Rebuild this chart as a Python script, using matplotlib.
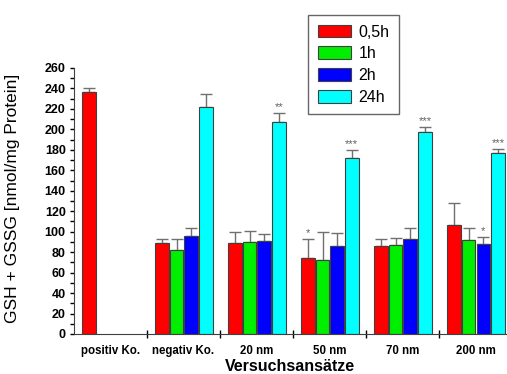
import numpy as np
from matplotlib import pyplot as plt
from matplotlib.ticker import MultipleLocator

plt.rcParams['font.family'] = ['Liberation Sans', 'DejaVu Sans']

groups = ['positiv Ko.', 'negativ Ko.', '20 nm', '50 nm', '70 nm', '200 nm']
series = ['0,5h', '1h', '2h', '24h']
colors = ['#ff0000', '#00ee00', '#0000ff', '#00ffff']

# mean values, nan = no bar
h05 = [237, 89, 89, 74, 86.5, 107]
h1 = [np.nan, 82.5, 89.5, 72.5, 87, 92]
h2 = [np.nan, 95.5, 91, 86.5, 93, 88]
h24 = [np.nan, 222, 207, 172.5, 197.5, 176.5]

# upper error
e05 = [3, 4, 11, 19, 6, 21]
e1 = [np.nan, 10, 11, 27, 7, 11.5]
e2 = [np.nan, 8, 6.5, 12, 11, 7]
e24 = [np.nan, 13, 9, 7, 5, 4.5]

# significance markers
s05 = ['', '', '', '*', '', '']
s1 = ['', '', '', '', '', '']
s2 = ['', '', '', '', '', '*']
s24 = ['', '', '**', '***', '***', '***']

vals = [h05, h1, h2, h24]
errs = [e05, e1, e2, e24]
stars = [s05, s1, s2, s24]

fig = plt.figure(figsize=(5.07, 3.74), dpi=100)
ax = fig.add_axes([74 / 507, 40 / 374, 1 - 74 / 507, 266 / 374])

x = np.arange(len(groups))
step = 0.2
width = 0.185
for i in range(4):
    xs = x - 0.5 + 0.105 + step * i + step / 2
    v = np.array(vals[i], dtype=float)
    e = np.array(errs[i], dtype=float)
    ax.bar(xs, v, width, color=colors[i], edgecolor='#404040', linewidth=0.8,
           label=series[i], zorder=2)
    ax.errorbar(xs, v, yerr=[np.zeros_like(e), e], fmt='none', ecolor='#707070',
                elinewidth=1, capsize=4, capthick=1, zorder=1)
    for xi, vi, ei, st in zip(xs, v, e, stars[i]):
        if st:
            ax.text(xi, vi + ei + 1, st, ha='center', va='bottom', fontsize=8,
                    color='#606060')

ax.set_xlim(-0.5, 5.43)
ax.set_ylim(0, 260)
ax.yaxis.set_major_locator(MultipleLocator(20))
ax.yaxis.set_minor_locator(MultipleLocator(10))
ax.tick_params(axis='y', which='both', length=3, width=1, labelsize=9, pad=3)
for lab in ax.get_yticklabels():
    lab.set_fontweight('bold')

ax.set_xticks(x)
ax.set_xticklabels(groups, fontsize=8.3, fontweight='bold')
ax.tick_params(axis='x', which='major', length=0, pad=8)
ax.set_xticks(x[:-1] + 0.5, minor=True)
ax.tick_params(axis='x', which='minor', length=6, direction='inout', width=1)

for s in ['top', 'right']:
    ax.spines[s].set_visible(False)
ax.spines['left'].set_color('#404040')
ax.spines['bottom'].set_color('#404040')

ax.set_ylabel('GSH + GSSG [nmol/mg Protein]', fontsize=12.5)
ax.yaxis.set_label_coords(-0.125, 0.51)
ax.set_xlabel('Versuchsansätze', fontsize=11.5, fontweight='bold')
ax.xaxis.set_label_coords(0.499, -0.094)

leg = ax.legend(loc='upper left', bbox_to_anchor=(308 / 507, 1 - 15 / 374),
                bbox_transform=fig.transFigure, borderaxespad=0, fontsize=11.5,
                fancybox=False, handlelength=2.1, handleheight=0.85,
                labelspacing=0.42, handletextpad=0.45, borderpad=0.6)
leg.get_frame().set_edgecolor('#404040')
leg.get_frame().set_linewidth(1)

fig.savefig('out.png', dpi=100)
